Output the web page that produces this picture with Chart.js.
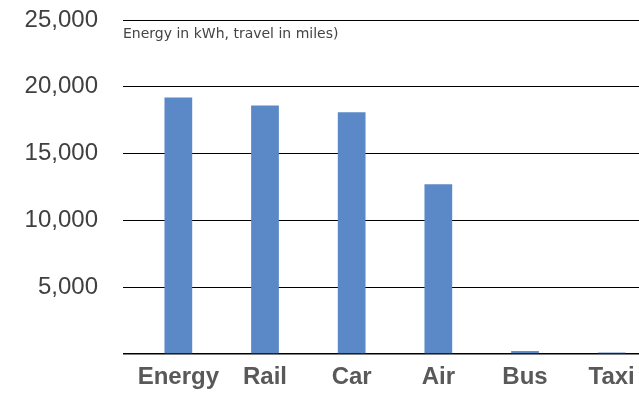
<!DOCTYPE html>
<html>
<head>
<meta charset="utf-8">
<script src="https://cdn.jsdelivr.net/npm/chart.js@4"></script>
<style>
  html, body { margin: 0; padding: 0; background: #fff; overflow: hidden; }
  #wrap { position: relative; width: 639px; height: 393px; overflow: hidden; }
  #note { position: absolute; left: 123px; top: 25px; font: 14px "DejaVu Sans", sans-serif; color: #444; }
</style>
</head>
<body>
<div id="wrap">
  <canvas id="chart" width="655" height="393"></canvas>
  <div id="note">Energy in kWh, travel in miles)</div>
</div>
<script>
const categories = ["Energy", "Rail", "Car", "Air", "Bus", "Taxi"];
const values = [19200, 18600, 18100, 12700, 220, 110];
const yTicks = [0, 5000, 10000, 15000, 20000, 25000];

document.addEventListener("DOMContentLoaded", function () {
    const ctx = document.getElementById("chart");
    new Chart(ctx, {
        type: "bar",
        data: {
            labels: categories,
            datasets: [{ data: values, backgroundColor: "#5b88c6", borderWidth: 0, barPercentage: 0.32, categoryPercentage: 1 }]
        },
        options: {
            responsive: false,
            animation: false,
            layout: { padding: { top: 20, right: 0, left: 0, bottom: 0 } },
            plugins: { legend: { display: false }, tooltip: { enabled: false } },
            scales: {
                x: {
                    grid: { display: false },
                    border: { display: false },
                    ticks: { color: "#595959", padding: 1, maxRotation: 0, minRotation: 0, autoSkip: false, font: { family: "Liberation Sans", size: 24, weight: "bold" } },
                    afterFit: s => { s.height = 39; s.paddingLeft = 0; s.paddingRight = 0; }
                },
                y: {
                    min: yTicks[0], max: yTicks[yTicks.length - 1],
                    afterBuildTicks: s => { s.ticks = yTicks.map(v => ({ value: v })); },
                    grid: { color: "#000", lineWidth: c => c.tick && c.tick.value === 0 ? 1.5 : 1, tickLength: 12, drawTicks: true },
                    border: { display: false },
                    ticks: {
                        color: "#404040", padding: 25,
                        font: { family: "Liberation Sans", size: 24 },
                        callback: v => v === 0 ? "" : v.toLocaleString("en-US")
                    },
                    afterFit: s => { s.width = 135; s.paddingTop = 0; s.paddingBottom = 0; }
                }
            }
        }
    });
});
</script>
</body>
</html>
